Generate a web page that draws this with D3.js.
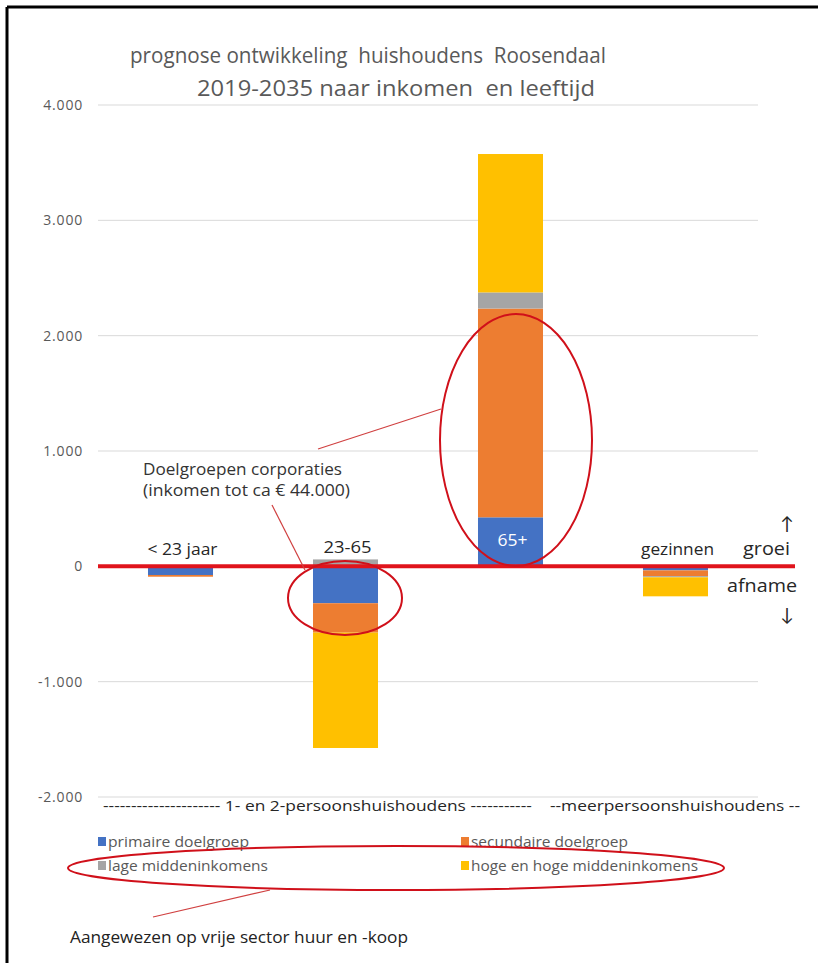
<!DOCTYPE html>
<html><head><meta charset="utf-8">
<script src="https://cdn.jsdelivr.net/npm/d3@7"></script>
<style>body{margin:0;background:#fff}svg{display:block}</style>
</head><body>
<svg id="c" width="818" height="963"></svg>
<script>
const categories = ["< 23 jaar", "23-65", "65+", "gezinnen"];
const seriesNames = ["primaire doelgroep", "secundaire doelgroep", "lage middeninkomens", "hoge en hoge middeninkomens"];
const primaire = [-75, -320, 425, -35];
const secundaire = [-15, -255, 1810, -50];
const lage = [0, 60, 140, -10];
const hoge = [0, -1000, 1200, -165];
const yTicks = [-2000, -1000, 0, 1000, 2000, 3000, 4000];
const colors = ["#4472c4", "#ed7d31", "#a5a5a5", "#ffc000"];
const titleLines = ["prognose ontwikkeling  huishoudens  Roosendaal", "2019-2035 naar inkomen  en leeftijd"];
const groupLabel = "--------------------- 1- en 2-persoonshuishoudens -----------    --meerpersoonshuishoudens --";

const svg = d3.select("#c");
const FONT = "'Open Sans', Lato, sans-serif";

// frame
svg.append("line").attr("x1",7).attr("x2",818).attr("y1",7).attr("y2",7).attr("stroke","#000").attr("stroke-width",3);
svg.append("line").attr("x1",7).attr("x2",7).attr("y1",7).attr("y2",963).attr("stroke","#000").attr("stroke-width",3);

const x = d3.scaleBand().domain(categories).range([98, 758]).paddingInner(0.606).paddingOuter(0.303);
const y = d3.scaleLinear().domain([-2000, 4000]).range([797, 105]);

// gridlines
svg.append("g").selectAll("line").data(yTicks).join("line")
  .attr("x1", 98).attr("x2", 758)
  .attr("y1", d => y(d)).attr("y2", d => y(d))
  .attr("stroke", "#d9d9d9").attr("stroke-width", 1);

// y labels
const fmt = d => d3.format(",")(d).replace(/,/g, ".").replace("\u2212", "-");
svg.append("g").selectAll("text").data(yTicks).join("text")
  .attr("x", 83).attr("y", d => y(d) + 5)
  .attr("text-anchor", "end")
  .attr("font-family", FONT).attr("font-size", 14).attr("letter-spacing", 0.8)
  .attr("fill", "#595959").text(fmt);

// stacked bars
const table = categories.map((c, i) => ({cat: c, s0: primaire[i], s1: secundaire[i], s2: lage[i], s3: hoge[i]}));
const stack = d3.stack().keys(["s0","s1","s2","s3"]).offset(d3.stackOffsetDiverging);
const layers = stack(table);
svg.append("g").selectAll("g").data(layers).join("g")
  .attr("fill", (d, i) => colors[i])
  .selectAll("rect").data(d => d).join("rect")
  .attr("x", d => x(d.data.cat))
  .attr("width", x.bandwidth())
  .attr("y", d => y(Math.max(d[0], d[1])))
  .attr("height", d => Math.abs(y(d[0]) - y(d[1])));

// zero line
svg.append("line").attr("x1", 98).attr("x2", 795).attr("y1", y(0)).attr("y2", y(0))
  .attr("stroke", "#e0141c").attr("stroke-width", 4);

// category labels
const catLabelY = [555, 553, 546, 555];
const catLabelW = [70, 48, 30, 73];
svg.append("g").selectAll("text").data(categories).join("text")
  .attr("x", d => x(d) + x.bandwidth()/2 + 2)
  .attr("y", (d, i) => catLabelY[i])
  .attr("text-anchor", "middle")
  .attr("textLength", (d, i) => catLabelW[i]).attr("lengthAdjust", "spacingAndGlyphs")
  .attr("font-family", FONT).attr("font-size", 16)
  .attr("fill", d => d === "65+" ? "#fff" : "#262626")
  .text(d => d);

// title
const tl = svg.append("g").attr("font-family", FONT).attr("font-size", 21).attr("fill", "#595959");
tl.append("text").attr("x", 130).attr("y", 63).attr("textLength", 476).attr("lengthAdjust","spacingAndGlyphs").attr("xml:space","preserve").text(titleLines[0]);
tl.append("text").attr("x", 197).attr("y", 96).attr("textLength", 398).attr("lengthAdjust","spacingAndGlyphs").attr("xml:space","preserve").text(titleLines[1]);

// group label under axis
svg.append("text").attr("x", 103).attr("y", 811).attr("textLength", 697).attr("lengthAdjust","spacingAndGlyphs")
  .attr("xml:space","preserve")
  .attr("font-family", FONT).attr("font-size", 15).attr("fill", "#262626").text(groupLabel);

// legend
const legPos = [[98, 842], [461, 842], [98, 866], [461, 866]];
const legW = [141, 157, 160, 227];
const leg = svg.append("g").selectAll("g").data(seriesNames).join("g")
  .attr("transform", (d, i) => `translate(${legPos[i][0]},${legPos[i][1]})`);
leg.append("rect").attr("x", 0).attr("y", -5).attr("width", 8).attr("height", 9).attr("fill", (d, i) => colors[i]);
leg.append("text").attr("x", 10).attr("y", 5).attr("font-family", FONT).attr("font-size", 14.5)
  .attr("textLength", (d, i) => legW[i]).attr("lengthAdjust", "spacingAndGlyphs")
  .attr("fill", "#595959").text(d => d);

// annotations: ellipses
const red = "#d0101a";
const ell = [[516, 440, 76, 126], [345, 598, 57, 37], [396, 868, 328, 22]];
svg.append("g").selectAll("ellipse").data(ell).join("ellipse")
  .attr("cx", d => d[0]).attr("cy", d => d[1]).attr("rx", d => d[2]).attr("ry", d => d[3])
  .attr("fill", "none").attr("stroke", red).attr("stroke-width", 2);

// pointer lines
const lines = [[318, 449, 441, 409], [272, 505, 305, 570], [153, 917, 270, 890]];
svg.append("g").selectAll("line").data(lines).join("line")
  .attr("x1", d => d[0]).attr("y1", d => d[1]).attr("x2", d => d[2]).attr("y2", d => d[3])
  .attr("stroke", "#d04040").attr("stroke-width", 1.2);

// annotation texts
const at = svg.append("g").attr("font-family", FONT).attr("font-size", 16).attr("fill", "#333");
at.append("text").attr("x", 143).attr("y", 475).attr("textLength", 199).attr("lengthAdjust","spacingAndGlyphs").text("Doelgroepen corporaties");
at.append("text").attr("x", 143).attr("y", 496).attr("textLength", 207).attr("lengthAdjust","spacingAndGlyphs").text("(inkomen tot ca € 44.000)");
at.append("text").attr("x", 70).attr("y", 943).attr("textLength", 338).attr("lengthAdjust","spacingAndGlyphs").attr("fill","#222").text("Aangewezen op vrije sector huur en -koop");

const side = svg.append("g").attr("font-family", FONT).attr("fill", "#262626");
side.append("text").attr("x", 787).attr("y", 530).attr("text-anchor","middle").attr("font-size", 18).text("↑");
side.append("text").attr("x", 743).attr("y", 555).attr("textLength", 47).attr("lengthAdjust","spacingAndGlyphs").attr("font-size", 18).text("groei");
side.append("text").attr("x", 727).attr("y", 592).attr("textLength", 70).attr("lengthAdjust","spacingAndGlyphs").attr("font-size", 18).text("afname");
side.append("text").attr("x", 787).attr("y", 621).attr("text-anchor","middle").attr("font-size", 18).text("↓");
</script>
</body></html>
